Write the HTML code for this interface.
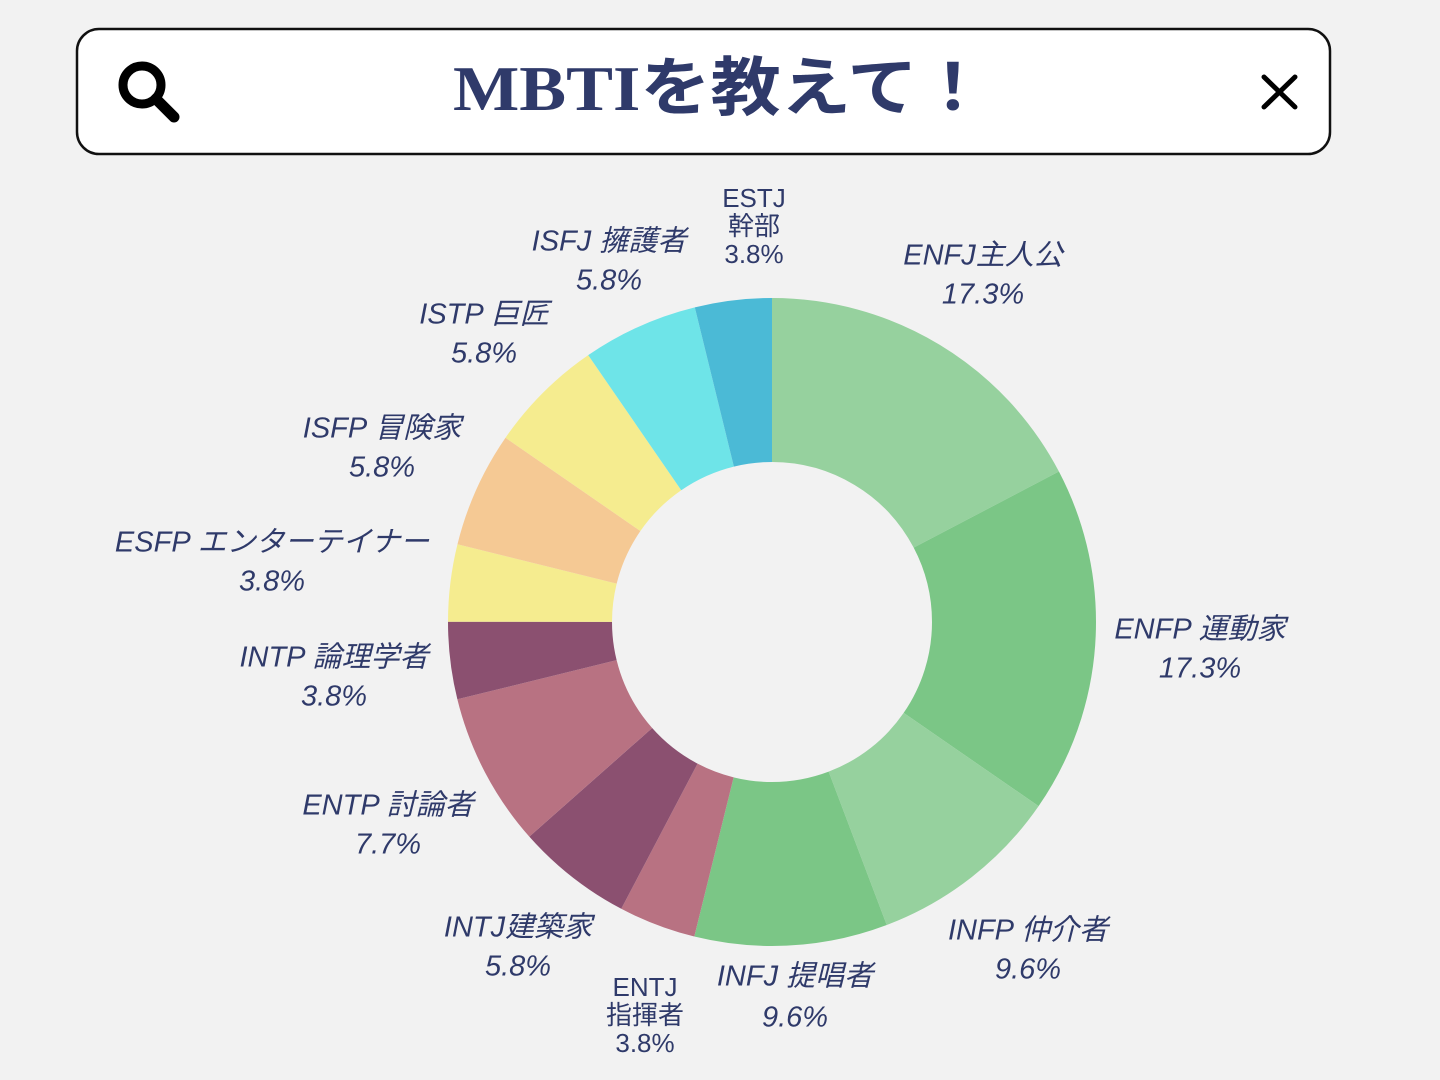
<!DOCTYPE html>
<html><head><meta charset="utf-8"><style>
html,body{margin:0;padding:0;background:#f2f2f2;}
svg{display:block}
.l{font-family:"Liberation Sans","Noto Sans CJK JP",sans-serif;font-style:italic;font-size:29px;fill:#2f3a6a;text-anchor:middle;dominant-baseline:middle}
.s{font-family:"Liberation Sans","Noto Sans CJK JP",sans-serif;font-size:26px;fill:#2f3a6a;text-anchor:middle;dominant-baseline:middle}
</style></head><body>
<svg width="1440" height="1080" viewBox="0 0 1440 1080">
<rect width="1440" height="1080" fill="#f2f2f2"/>
<rect x="77" y="29" width="1253" height="125" rx="22" fill="#fff" stroke="#111" stroke-width="2.5"/>
<circle cx="142" cy="85" r="19" fill="none" stroke="#000" stroke-width="9"/>
<line x1="156" y1="99" x2="174" y2="117" stroke="#000" stroke-width="11" stroke-linecap="round"/>
<line x1="1264" y1="77" x2="1295" y2="107" stroke="#000" stroke-width="5" stroke-linecap="round"/>
<line x1="1295" y1="77" x2="1264" y2="107" stroke="#000" stroke-width="5" stroke-linecap="round"/>
<text x="453" y="110" textLength="535" lengthAdjust="spacingAndGlyphs" font-family="'Liberation Serif','Noto Sans CJK JP',serif" font-size="64" font-weight="bold" fill="#2f3a6a">MBTIを教えて！</text>
<g transform="rotate(-90 772 622)" fill="none" stroke-width="164">
<circle cx="772" cy="622" r="242" stroke="#96d19e" stroke-dasharray="263.17 2000" stroke-dashoffset="0"/>
<circle cx="772" cy="622" r="242" stroke="#7bc686" stroke-dasharray="263.17 2000" stroke-dashoffset="-263.17"/>
<circle cx="772" cy="622" r="242" stroke="#96d19e" stroke-dasharray="146.2 2000" stroke-dashoffset="-526.33"/>
<circle cx="772" cy="622" r="242" stroke="#7bc686" stroke-dasharray="146.2 2000" stroke-dashoffset="-672.54"/>
<circle cx="772" cy="622" r="242" stroke="#b87282" stroke-dasharray="58.48 2000" stroke-dashoffset="-818.75"/>
<circle cx="772" cy="622" r="242" stroke="#8b5070" stroke-dasharray="87.72 2000" stroke-dashoffset="-877.23"/>
<circle cx="772" cy="622" r="242" stroke="#b87282" stroke-dasharray="116.96 2000" stroke-dashoffset="-964.95"/>
<circle cx="772" cy="622" r="242" stroke="#8b5070" stroke-dasharray="58.48 2000" stroke-dashoffset="-1081.91"/>
<circle cx="772" cy="622" r="242" stroke="#f5ec8f" stroke-dasharray="58.48 2000" stroke-dashoffset="-1140.4"/>
<circle cx="772" cy="622" r="242" stroke="#f5c994" stroke-dasharray="87.72 2000" stroke-dashoffset="-1198.88"/>
<circle cx="772" cy="622" r="242" stroke="#f5ec8f" stroke-dasharray="87.72 2000" stroke-dashoffset="-1286.6"/>
<circle cx="772" cy="622" r="242" stroke="#6ee4e8" stroke-dasharray="87.72 2000" stroke-dashoffset="-1374.32"/>
<circle cx="772" cy="622" r="242" stroke="#4bbad6" stroke-dasharray="58.48 2000" stroke-dashoffset="-1462.05"/>
</g>
<text class="s" x="754" y="200">ESTJ</text><text class="s" x="754" y="228">幹部</text><text class="s" x="754" y="256">3.8%</text>
<text class="l" x="609" y="243">ISFJ 擁護者</text><text class="l" x="609" y="282">5.8%</text>
<text class="l" x="983" y="257">ENFJ主人公</text><text class="l" x="983" y="296">17.3%</text>
<text class="l" x="484" y="316">ISTP 巨匠</text><text class="l" x="484" y="355">5.8%</text>
<text class="l" x="382" y="430">ISFP 冒険家</text><text class="l" x="382" y="469">5.8%</text>
<text class="l" x="272" y="544">ESFP エンターテイナー</text><text class="l" x="272" y="583">3.8%</text>
<text class="l" x="1200" y="631">ENFP 運動家</text><text class="l" x="1200" y="670">17.3%</text>
<text class="l" x="334" y="659">INTP 論理学者</text><text class="l" x="334" y="698">3.8%</text>
<text class="l" x="388" y="807">ENTP 討論者</text><text class="l" x="388" y="846">7.7%</text>
<text class="l" x="1028" y="932">INFP 仲介者</text><text class="l" x="1028" y="971">9.6%</text>
<text class="l" x="518" y="929">INTJ建築家</text><text class="l" x="518" y="968">5.8%</text>
<text class="l" x="795" y="978">INFJ 提唱者</text><text class="l" x="795" y="1019">9.6%</text>
<text class="s" x="645" y="989">ENTJ</text><text class="s" x="645" y="1017">指揮者</text><text class="s" x="645" y="1045">3.8%</text>
</svg>
</body></html>
